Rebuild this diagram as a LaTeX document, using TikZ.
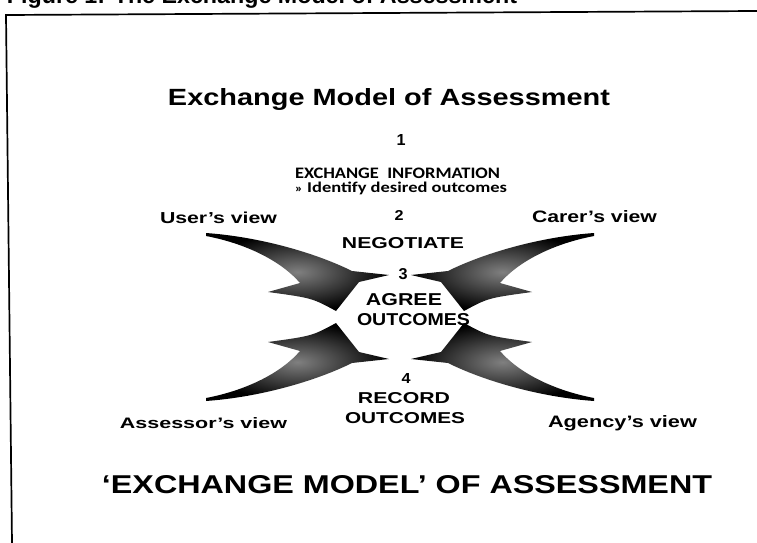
\documentclass[tikz,border=0pt]{standalone}
\usepackage{fontspec}
\setmainfont{Liberation Sans}
\newfontfamily\calfont{Carlito}
\usepackage{graphicx}
\newcommand{\fitt}[3]{\resizebox{#1pt}{#2pt}{#3}}
\def\swoosh{(206,233) .. controls (262,237) and (318,254) .. (352,271) -- (389,275) -- (359,282) -- (336,311) .. controls (312,298) .. (268,292) -- (300,283) .. controls (282,262) and (248,244) .. (206,236) -- cycle}
\begin{document}
\begin{tikzpicture}[x=1pt,y=-1pt,
  txt/.style={inner sep=0pt, outer sep=0pt, anchor=base, font=\bfseries},
  arrowfill/.style={shading=radial, inner color=black!50, outer color=black},
  frameline/.style={line width=1.7pt, black}]
\useasboundingbox (0,0) rectangle (757,543);
\fill[white] (0,0) rectangle (757,543);
% frame
\coordinate (ftl) at (6,15);
\coordinate (ftr) at (757,11);
\coordinate (fbl) at (12,543);
\draw[frameline] (ftr) -- (ftl) -- (fbl);
% cut caption
\node[txt] (caption) at (262,4) {\fitt{510}{16.6}{Figure 1: The Exchange Model of Assessment}};
% arrows
\shade[arrowfill] \swoosh;
\begin{scope}[shift={(800,0)}, xscale=-1]
  \shade[arrowfill] \swoosh;
\end{scope}
\begin{scope}[shift={(0,634)}, yscale=-1]
  \shade[arrowfill] \swoosh;
\end{scope}
\begin{scope}[shift={(800,634)}, xscale=-1, yscale=-1]
  \shade[arrowfill] \swoosh;
\end{scope}
% texts
\node[txt] (title) at (389,105) {\fitt{442}{17}{Exchange Model of Assessment}};
\node[txt] (n1) at (401,145) {\fitt{9}{11}{1}};
\node[txt] (exch) at (397.5,178) {\calfont\bfseries\fitt{205}{10.5}{EXCHANGE\hspace{0.45em}INFORMATION}};
\node[txt] (ident) at (401,192) {\calfont\bfseries\fitt{212}{10.5}{{\footnotesize »} Identify desired outcomes}};
\node[txt] (n2) at (399,220) {\fitt{9}{10}{2}};
\node[txt] (user) at (218.5,223) {\fitt{117}{11.5}{User’s view}};
\node[txt] (carer) at (594.5,222) {\fitt{125}{12}{Carer’s view}};
\node[txt] (neg) at (403,248) {\fitt{122}{11}{NEGOTIATE}};
\node[txt] (n3) at (403,279) {\fitt{9}{11}{3}};
\node[txt] (agree) at (404,305) {\fitt{76}{12}{AGREE}};
\node[txt] (out1) at (413.5,325) {\fitt{113}{12}{OUTCOMES}};
\node[txt] (n4) at (406,383) {\fitt{9}{10}{4}};
\node[txt] (rec) at (404,403) {\fitt{92}{11}{RECORD}};
\node[txt] (out2) at (405,423) {\fitt{120}{11}{OUTCOMES}};
\node[txt] (assess) at (203.5,428) {\fitt{167}{11}{Assessor’s view}};
\node[txt] (agency) at (622.5,427) {\fitt{149}{12}{Agency’s view}};
\node[txt] (bottom) at (407,493) {\fitt{610}{18}{‘EXCHANGE MODEL’ OF ASSESSMENT}};
\end{tikzpicture}
\end{document}
